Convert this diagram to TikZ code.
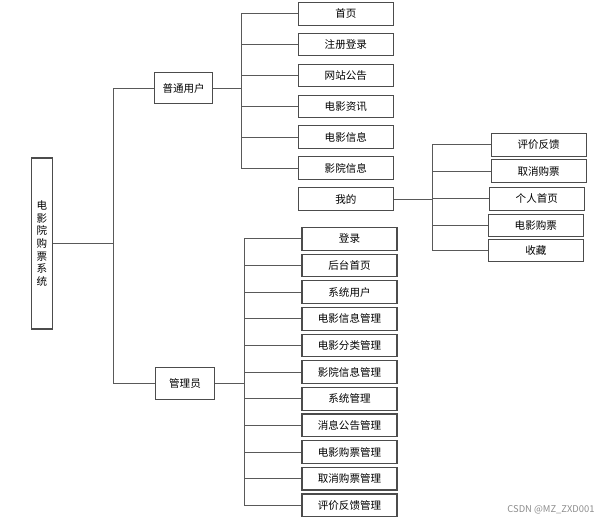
\documentclass[tikz,border=0pt]{standalone}
\usepackage{fontspec}
\setmainfont{Noto Sans CJK SC}

\begin{document}
\begin{tikzpicture}[x=0.03cm, y=-0.03cm,
    every node/.style={font=\fontsize{9}{10.7}\selectfont},
    box/.style={draw=black!70, line width=0.9pt, minimum width=2.85cm, minimum height=0.68cm, inner sep=0pt},
    role/.style={draw=black!70, line width=0.9pt, minimum width=1.75cm, minimum height=0.95cm, inner sep=0pt},
    link/.style={draw=black!65, line width=0.8pt}]
    \useasboundingbox (0,0) rectangle (610,521);

    \node[draw=black!70, line width=0.9pt, minimum width=0.62cm, minimum height=5.13cm, align=center, inner sep=0pt] (sys) at (42,243.5) {电\\影\\院\\购\\票\\系\\统};
    \node[role] (user) at (183.6,88) {普通用户};
    \node[role] (admin) at (185,383.5) {管理员};

    \draw[link] (sys.east) -- ++(61,0) coordinate (tk);
    \draw[link] (tk) |- (user.west);
    \draw[link] (tk) |- (admin.west);

    % user side
    \foreach \txt [count=\i] in {首页,注册登录,网站公告,电影资讯,电影信息,影院信息,我的}
        \node[box] (u\i) at (345.8,{13.7+30.9*(\i-1)}) {\txt};
    \draw[link] (user.east) -- ++(28.3,0) coordinate (ubus);
    \foreach \i in {1,...,6}
        \draw[link] (ubus) |- (u\i.west);

    % my page
    \node[box] (m1) at (538.7,144.7) {评价反馈};
    \node[box] (m2) at (538.7,171.3) {取消购票};
    \node[box] (m3) at (536.8,198.7) {个人首页};
    \node[box] (m4) at (535.8,225.5) {电影购票};
    \node[box] (m5) at (535.8,250.5) {收藏};
    \draw[link] (u7.east) -- ++(38.7,0) coordinate (mbus);
    \foreach \j in {1,...,5}
        \draw[link] (mbus) |- (m\j.west);

    % admin side
    \foreach \txt [count=\k] in {登录,后台首页,系统用户,电影信息管理,电影分类管理,影院信息管理,系统管理,消息公告管理,电影购票管理,取消购票管理,评价反馈管理}
        \node[box] (a\k) at (349.5,{238.8+26.65*(\k-1)}) {\txt};
    \draw[link] (admin.east) -- ++(29.7,0) coordinate (abus);
    \foreach \k in {1,...,11}
        \draw[link] (abus) |- (a\k.west);

    \node[text=black!45, font=\fontsize{8}{9}\selectfont] (mark) at (551,510) {CSDN @MZ\_ZXD001};
\end{tikzpicture}
\end{document}
